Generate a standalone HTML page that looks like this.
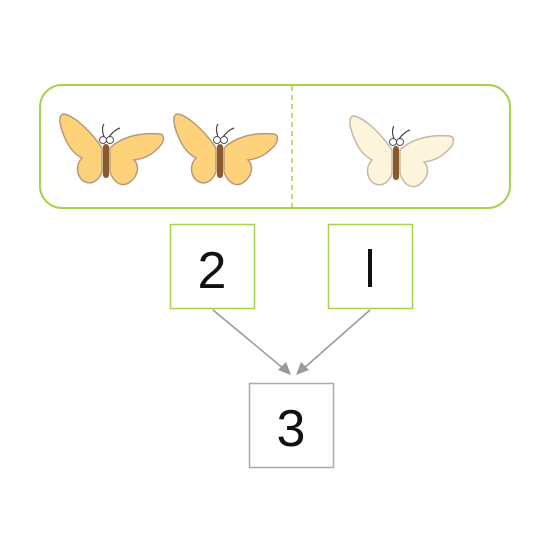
<!DOCTYPE html>
<html><head><style>
body{margin:0;width:550px;height:550px;background:#fff;overflow:hidden}
</style></head><body>
<svg width="550" height="550" viewBox="0 0 550 550" xmlns="http://www.w3.org/2000/svg">
<defs>
<g id="bf">
 <path d="M-4,-2 C-16,-20 -32,-34 -42,-36 C-48,-36 -47,-26 -42,-14 C-38,-4 -32,4 -24,8 C-30,14 -30,24 -24,30 C-16,36 -8,32 -4,22 Z"/>
 <path d="M4,-2 C14,-12 32,-18 54,-16 C60,-15 58,-6 50,0 C44,6 36,9 28,10 C34,16 32,26 24,32 C16,38 8,33 4,22 Z"/>
</g>
</defs>
<rect x="40" y="85" width="470" height="123" rx="22" fill="#fff" stroke="#a8d14a" stroke-width="2"/>
<line x1="292" y1="86" x2="292" y2="207" stroke="#a8d14a" stroke-width="1.5" stroke-dasharray="5,4"/>

<g transform="translate(106,150)">
 <use href="#bf" fill="#fdd27a" stroke="#b89a7a" stroke-width="1.5"/>
 <rect x="-3" y="-6" width="6" height="34" rx="3" fill="#8a5a2a"/>
 <circle cx="-3" cy="-10" r="3.5" fill="#fff" stroke="#555"/><circle cx="4" cy="-10" r="3.5" fill="#fff" stroke="#555"/>
 <path d="M-2,-13 Q-5,-22 -2,-26 M3,-13 Q8,-20 14,-22" fill="none" stroke="#444" stroke-width="1.2"/>
</g>
<g transform="translate(220,150)">
 <use href="#bf" fill="#fdd27a" stroke="#b89a7a" stroke-width="1.5"/>
 <rect x="-3" y="-6" width="6" height="34" rx="3" fill="#8a5a2a"/>
 <circle cx="-3" cy="-10" r="3.5" fill="#fff" stroke="#555"/><circle cx="4" cy="-10" r="3.5" fill="#fff" stroke="#555"/>
 <path d="M-2,-13 Q-5,-22 -2,-26 M3,-13 Q8,-20 14,-22" fill="none" stroke="#444" stroke-width="1.2"/>
</g>
<g transform="translate(396,152)">
 <use href="#bf" fill="#fdf5dc" stroke="#c9b6a4" stroke-width="1.5"/>
 <rect x="-3" y="-6" width="6" height="34" rx="3" fill="#8a5a2a"/>
 <circle cx="-3" cy="-10" r="3.5" fill="#fff" stroke="#555"/><circle cx="4" cy="-10" r="3.5" fill="#fff" stroke="#555"/>
 <path d="M-2,-13 Q-5,-22 -2,-26 M3,-13 Q8,-20 14,-22" fill="none" stroke="#444" stroke-width="1.2"/>
</g>

<rect x="170.5" y="224.5" width="84" height="84" fill="#fff" stroke="#a8d14a" stroke-width="1.5"/>
<rect x="328.5" y="224.5" width="84" height="84" fill="#fff" stroke="#a8d14a" stroke-width="1.5"/>
<rect x="249.5" y="383.5" width="84" height="84" fill="#fff" stroke="#aaa" stroke-width="1.5"/>
<g font-family="Liberation Sans, sans-serif" font-size="52" fill="#111" text-anchor="middle">
<text x="212" y="288">2</text>
<text x="291" y="446">3</text>
</g>
<rect x="368" y="249" width="4" height="38" fill="#111"/>

<g stroke="#999" stroke-width="1.5">
<line x1="213" y1="310" x2="284" y2="369"/>
<line x1="370" y1="310" x2="303" y2="369"/>
</g>
<polygon points="291,375 278,370 286,362" fill="#999"/>
<polygon points="296,375 301,362 309,370" fill="#999"/>
</svg>
</body></html>
